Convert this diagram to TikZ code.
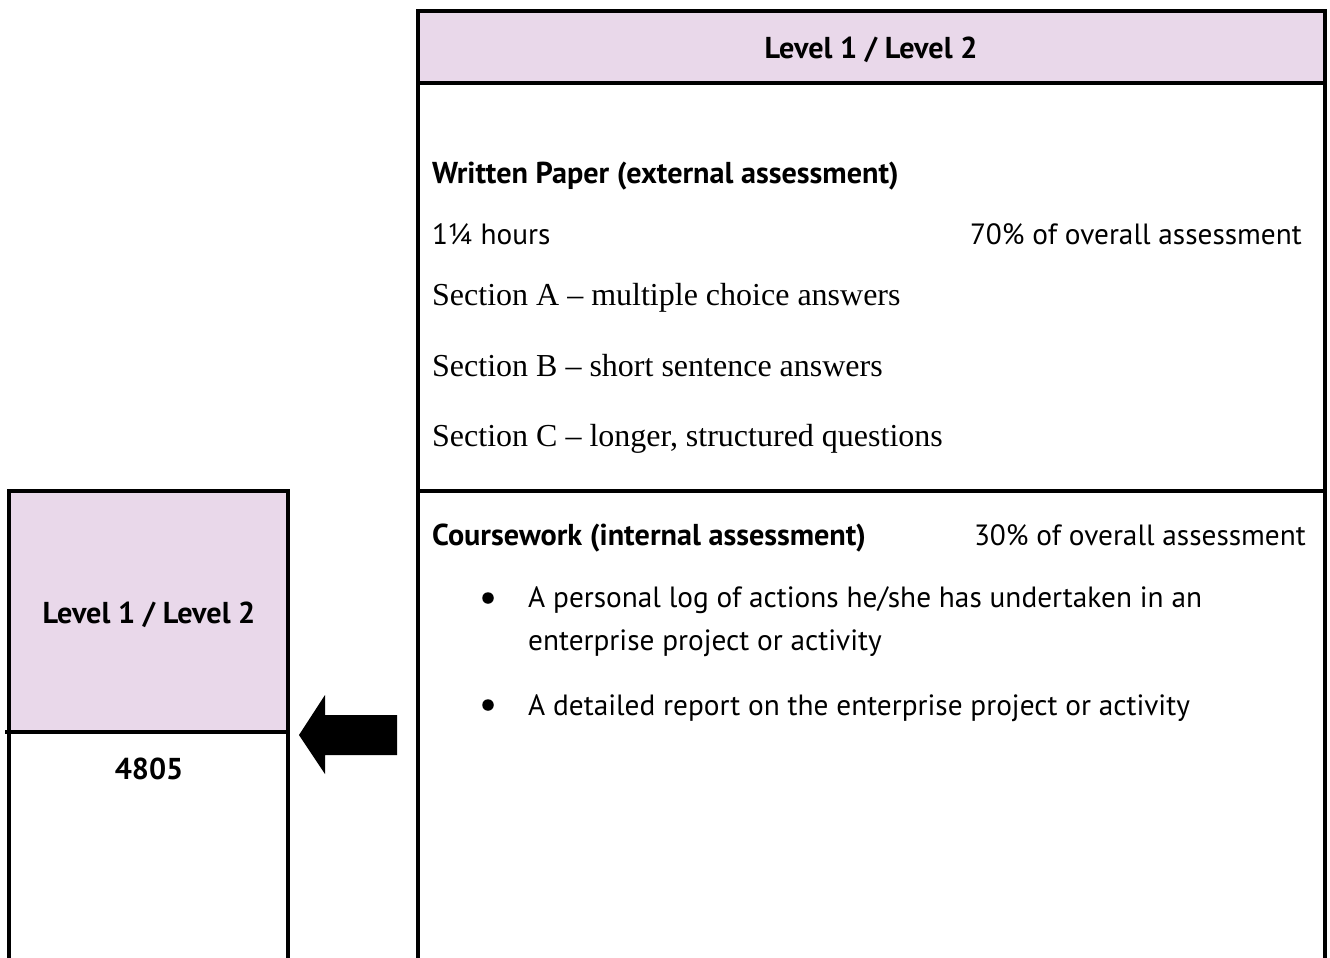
\documentclass[tikz,border=0pt]{standalone}
\usepackage{fontspec}
\setmainfont{PT Sans}
\newfontfamily\serifx{Liberation Serif}
\definecolor{pinkbg}{HTML}{E9D8EA}
\begin{document}
\begin{tikzpicture}[x=1pt,y=-1pt,
  frame/.style={line width=3.5pt,line cap=rect},
  sf/.style={inner sep=0pt,anchor=base west,font=\fontsize{29.3}{34}\selectfont},
  sfb/.style={inner sep=0pt,anchor=base west,font=\fontsize{30.2}{35}\selectfont\bfseries},
  serif/.style={inner sep=0pt,anchor=base west,font=\serifx\fontsize{32}{38}\selectfont},
  bul/.style={circle,fill=black,inner sep=0pt,minimum size=11.5pt}]
\useasboundingbox (0,0) rectangle (1330,958);
% fills
\fill[pinkbg] (418,11) rectangle (1325,83);
\fill[pinkbg] (9,491) rectangle (288,732);
% right box frame
\draw[frame] (418,958) -- (418,11) -- (1325,11) -- (1325,958);
\draw[frame] (418,83) -- (1325,83);
\draw[frame] (418,491) -- (1325,491);
% left box frame
\draw[frame] (9,958) -- (9,491) -- (288,491) -- (288,958);
\draw[frame] (7,732) -- (288,732);
% arrow
\fill (299,735) -- (325,695) -- (325,715) -- (397,715) -- (397,755) -- (325,755) -- (325,774) -- cycle;
% header texts
\node[sfb,anchor=base] (h1) at (871,59) {Level 1 / Level 2};
\node[sfb,anchor=base] (h2) at (149,623) {Level 1 / Level 2};
\node[sfb,anchor=base] (code) at (149,779) {4805};
% written paper
\node[sfb] (wp) at (432,183) {Written Paper (external assessment)};
\node[sf] (hrs) at (432,244) {1¼ hours};
\node[sf,anchor=base east] (p70) at (1302,244) {70\% of overall assessment};
\node[serif] (sa) at (432,305) {Section A – multiple choice answers};
\node[serif] (sb) at (432,376) {Section B – short sentence answers};
\node[serif] (sc) at (432,446) {Section C – longer, structured questions};
% coursework
\node[sfb] (cw) at (432,545) {Coursework (internal assessment)};
\node[sf,anchor=base east] (p30) at (1306,545) {30\% of overall assessment};
\node[bul] (b1) at (488,598) {};
\node[sf] (t1a) at (528,607) {A personal log of actions he/she has undertaken in an};
\node[sf] (t1b) at (528,650) {enterprise project or activity};
\node[bul] (b2) at (488,705) {};
\node[sf] (t2) at (528,715) {A detailed report on the enterprise project or activity};
\end{tikzpicture}
\end{document}
